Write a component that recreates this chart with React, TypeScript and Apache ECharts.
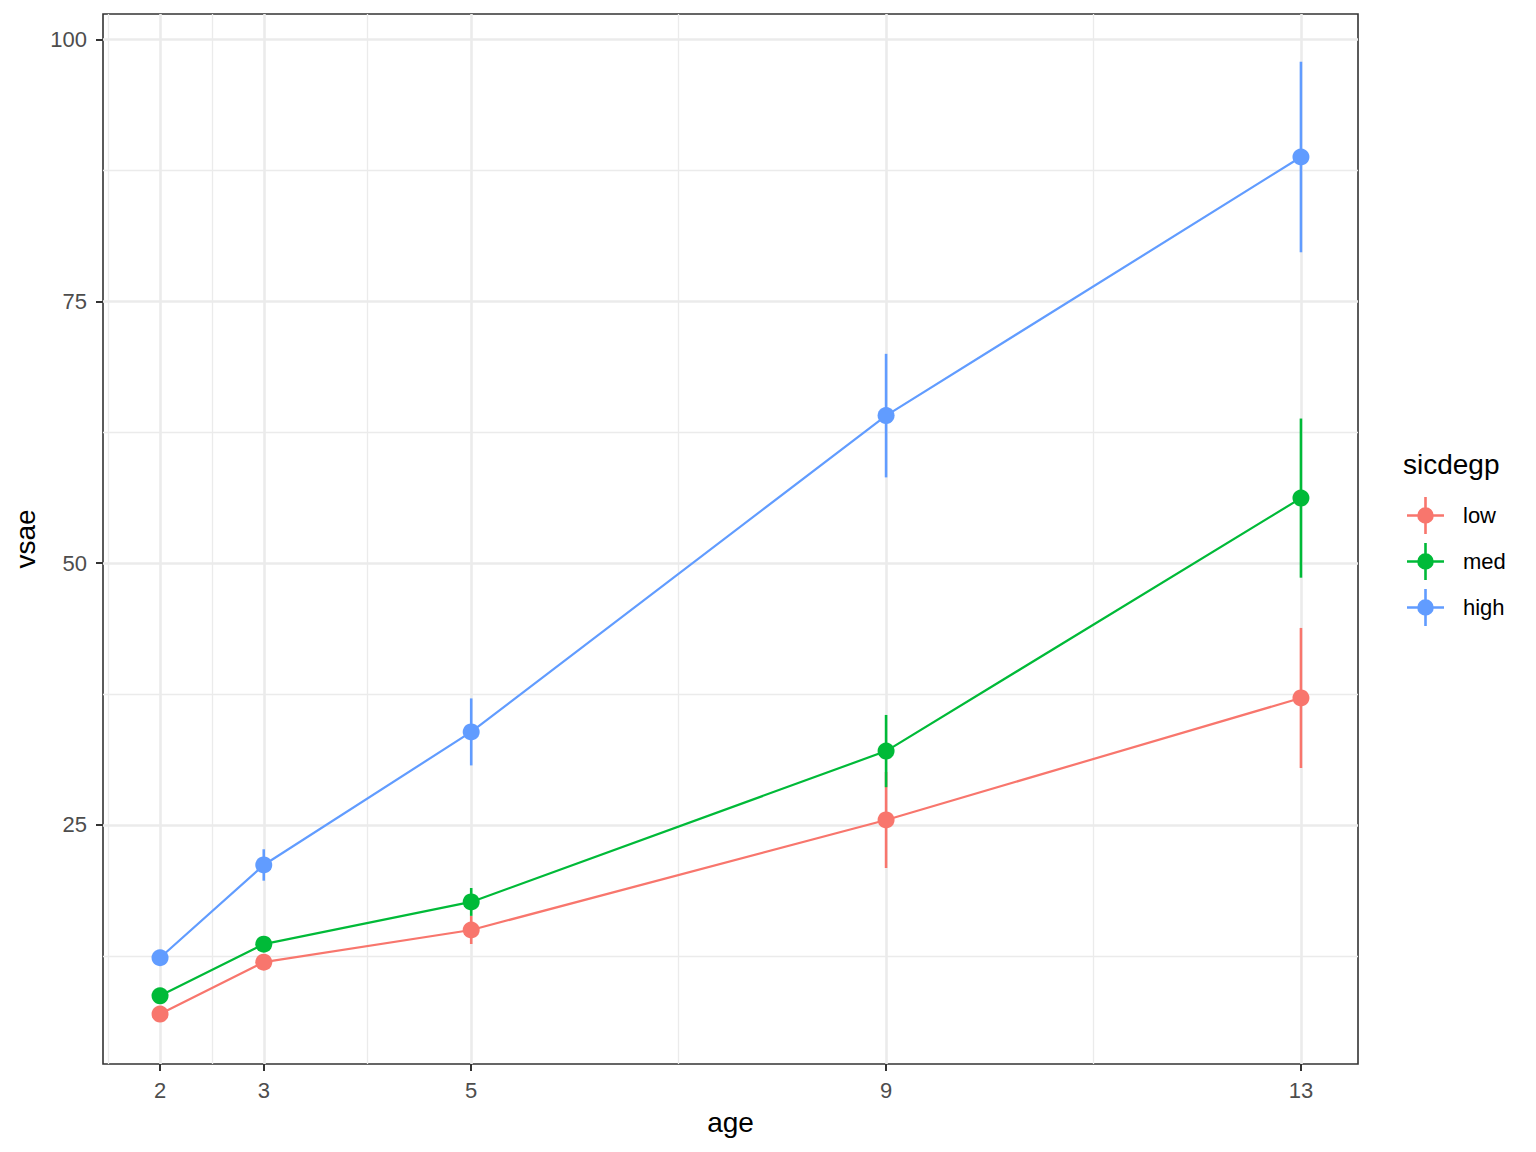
import React, { useEffect, useRef } from "react";
import * as echarts from "echarts";

// ---- data ----
const ages = [2, 3, 5, 9, 13];
const groups = ["low", "med", "high"];
const lowMean = [6.94, 11.9, 14.97, 25.48, 37.13];
const lowSe = [0.21, 0.6, 1.34, 4.59, 6.69];
const medMean = [8.68, 13.62, 17.65, 32.06, 56.22];
const medSe = [0.3, 0.5, 1.33, 3.45, 7.6];
const highMean = [12.32, 21.18, 33.89, 64.1, 88.8];
const highSe = [0.4, 1.5, 3.2, 5.9, 9.1];
const xTicks = [2, 3, 5, 9, 13];
const yTicks = [25, 50, 75, 100];
const xMinor = [1.5, 2.5, 4, 7, 11];
const yMinor = [12.5, 37.5, 62.5, 87.5];

const colors = ["#F8766D", "#00BA38", "#619CFF"];
const means = [lowMean, medMean, highMean];
const ses = [lowSe, medSe, highSe];

const FONT = "'Liberation Sans', Arial, Helvetica, sans-serif";
const ICON =
  "path://M0,17.2 H37 V19.8 H0 Z M17.2,0 H19.8 V37 H17.2 Z M26.8,18.5 A8.3,8.3 0 1 1 10.2,18.5 A8.3,8.3 0 1 1 26.8,18.5 Z";

function buildOption() {
  let lo = Infinity;
  let hi = -Infinity;
  means.forEach((m, g) =>
    m.forEach((v, i) => {
      lo = Math.min(lo, v - ses[g][i]);
      hi = Math.max(hi, v + ses[g][i]);
    })
  );
  const yPad = (hi - lo) * 0.05;
  const yMin = lo - yPad;
  const yMax = hi + yPad;
  const xLo = Math.min(...ages);
  const xHi = Math.max(...ages);
  const xPad = (xHi - xLo) * 0.05;
  const xMin = xLo - xPad;
  const xMax = xHi + xPad;

  const majorStyle = { color: "#EBEBEB", width: 2.6, type: "solid" };
  const minorStyle = { color: "#EBEBEB", width: 1.3, type: "solid" };
  const gridLines = [
    ...xMinor.map((v) => ({ xAxis: v, lineStyle: minorStyle })),
    ...yMinor.map((v) => ({ yAxis: v, lineStyle: minorStyle })),
    ...xTicks.map((v) => ({ xAxis: v, lineStyle: majorStyle })),
    ...yTicks.map((v) => ({ yAxis: v, lineStyle: majorStyle })),
  ];

  const series: any[] = [
    {
      name: "_grid",
      type: "line",
      z: 1,
      data: [[xMin, yMin]],
      showSymbol: false,
      symbol: "none",
      lineStyle: { opacity: 0 },
      silent: true,
      markLine: {
        z: 1,
        silent: true,
        symbol: ["none", "none"],
        label: { show: false },
        emphasis: { disabled: true },
        animation: false,
        data: gridLines,
      },
    },
  ];

  groups.forEach((g, gi) => {
    const color = colors[gi];
    series.push({
      name: g + "_err",
      type: "custom",
      z: 10 + gi * 2,
      silent: true,
      data: ages.map((a, i) => [a, means[gi][i] - ses[gi][i], means[gi][i] + ses[gi][i]]),
      encode: { x: 0, y: [1, 2] },
      renderItem: (params: any, api: any) => {
        const p1 = api.coord([api.value(0), api.value(1)]);
        const p2 = api.coord([api.value(0), api.value(2)]);
        return {
          type: "line",
          shape: { x1: p1[0], y1: p1[1], x2: p2[0], y2: p2[1] },
          style: { stroke: color, lineWidth: 2.6 },
        };
      },
    });
    series.push({
      name: g,
      type: "line",
      z: 11 + gi * 2,
      data: ages.map((a, i) => [a, means[gi][i]]),
      symbol: "circle",
      symbolSize: 17,
      showSymbol: true,
      showAllSymbol: true,
      color,
      itemStyle: { color, borderWidth: 0 },
      lineStyle: { color, width: 2.2 },
      emphasis: { disabled: true },
      silent: true,
    });
  });

  return {
    animation: false,
    backgroundColor: "#FFFFFF",
    textStyle: { fontFamily: FONT },
    title: {
      text: "sicdegp",
      left: 1403,
      top: 450,
      padding: 0,
      textStyle: { fontFamily: FONT, fontSize: 28, fontWeight: "normal", color: "#000000" },
    },
    legend: {
      orient: "vertical",
      left: 1407,
      top: 497,
      padding: 0,
      itemWidth: 37,
      itemHeight: 37,
      itemGap: 9,
      selectedMode: false,
      data: groups.map((g) => ({ name: g, icon: ICON })),
      itemStyle: { borderWidth: 0 },
      textStyle: { fontFamily: FONT, fontSize: 22, color: "#000000", padding: [0, 0, 0, 14] },
    },
    grid: {
      left: 103,
      top: 14,
      width: 1255,
      height: 1050,
      show: true,
      borderColor: "#333333",
      borderWidth: 1.6,
      backgroundColor: "transparent",
      containLabel: false,
      outerBoundsMode: "none",
    },
    xAxis: {
      type: "value",
      min: xMin,
      max: xMax,
      name: "age",
      nameLocation: "middle",
      nameGap: 44,
      nameTextStyle: { fontFamily: FONT, fontSize: 28, color: "#000000" },
      axisLine: { show: false },
      splitLine: { show: false },
      minorSplitLine: { show: false },
      axisTick: { show: true, length: 7, customValues: xTicks, lineStyle: { color: "#333333", width: 2 } },
      axisLabel: { customValues: xTicks, margin: 15, fontFamily: FONT, fontSize: 22, color: "#4D4D4D" },
    },
    yAxis: {
      type: "value",
      min: yMin,
      max: yMax,
      name: "vsae",
      nameLocation: "middle",
      nameGap: 61,
      nameTextStyle: { fontFamily: FONT, fontSize: 28, color: "#000000" },
      axisLine: { show: false },
      splitLine: { show: false },
      minorSplitLine: { show: false },
      axisTick: { show: true, length: 7, customValues: yTicks, lineStyle: { color: "#333333", width: 2 } },
      axisLabel: { customValues: yTicks, margin: 16, fontFamily: FONT, fontSize: 22, color: "#4D4D4D" },
    },
    series,
  };
}

export default function App() {
  const ref = useRef<HTMLDivElement>(null);
  useEffect(() => {
    if (!ref.current) return;
    const chart = echarts.init(ref.current, undefined, { renderer: "svg" });
    chart.setOption(buildOption() as any);
    return () => chart.dispose();
  }, []);
  return (
    <div
      ref={ref}
      style={{ position: "absolute", left: 0, top: 0, width: 1536, height: 1152, background: "#fff" }}
    />
  );
}
